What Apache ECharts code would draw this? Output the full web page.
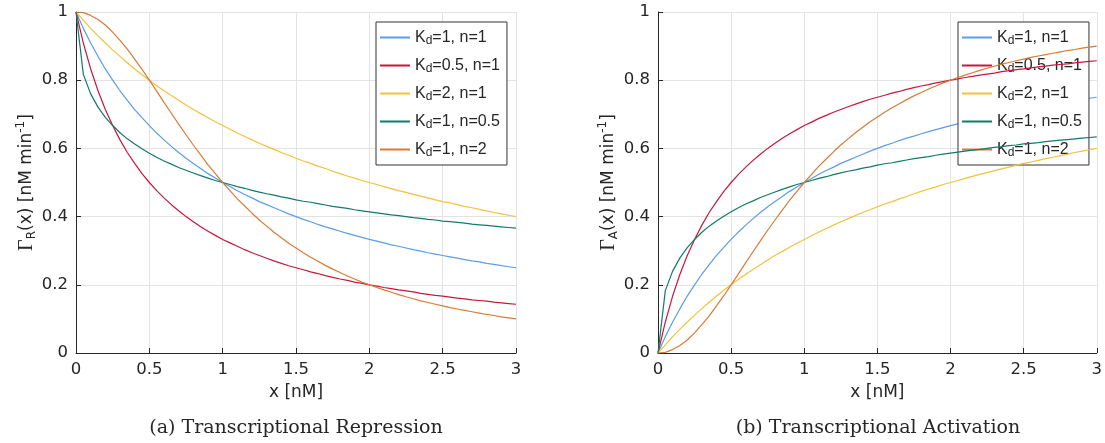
<!DOCTYPE html>
<html>
<head>
<meta charset="utf-8">
<script src="https://cdn.jsdelivr.net/npm/echarts@6/dist/echarts.min.js"></script>
<style>
html,body{margin:0;padding:0;background:#fff;}
#c{width:1105px;height:443px;}
</style>
</head>
<body>
<div id="c"></div>
<script>
// x grid (nM)
const xs = [0,0.05,0.1,0.15,0.2,0.25,0.3,0.35,0.4,0.45,0.5,0.55,0.6,0.65,0.7,0.75,0.8,0.85,0.9,0.95,
1.0,1.05,1.1,1.15,1.2,1.25,1.3,1.35,1.4,1.45,1.5,1.55,1.6,1.65,1.7,1.75,1.8,1.85,1.9,1.95,
2.0,2.05,2.1,2.15,2.2,2.25,2.3,2.35,2.4,2.45,2.5,2.55,2.6,2.65,2.7,2.75,2.8,2.85,2.9,2.95,3.0];

const seriesNames = ['Kd=1, n=1','Kd=0.5, n=1','Kd=2, n=1','Kd=1, n=0.5','Kd=1, n=2'];
const legendLabels = ['K{sub|d}=1, n=1','K{sub|d}=0.5, n=1','K{sub|d}=2, n=1','K{sub|d}=1, n=0.5','K{sub|d}=1, n=2'];

// Repression
const rep_kd1_n1 = [1,.952,.909,.870,.833,.8,.769,.741,.714,.690,.667,.645,.625,.606,.588,.571,.556,.541,.526,.513,
.5,.488,.476,.465,.455,.444,.435,.426,.417,.408,.4,.392,.385,.377,.370,.364,.357,.351,.345,.339,
.333,.328,.323,.317,.313,.308,.303,.299,.294,.290,.286,.282,.278,.274,.270,.267,.263,.260,.256,.253,.25];
const rep_kd05_n1 = [1,.909,.833,.769,.714,.667,.625,.588,.556,.526,.5,.476,.455,.435,.417,.4,.385,.370,.357,.345,
.333,.323,.313,.303,.294,.286,.278,.270,.263,.256,.25,.244,.238,.233,.227,.222,.217,.213,.208,.204,
.2,.196,.192,.189,.185,.182,.179,.175,.172,.169,.167,.164,.161,.159,.156,.154,.152,.149,.147,.145,.143];
const rep_kd2_n1 = [1,.976,.952,.930,.909,.889,.870,.851,.833,.816,.8,.784,.769,.755,.741,.727,.714,.702,.690,.678,
.667,.656,.645,.635,.625,.615,.606,.597,.588,.580,.571,.563,.556,.548,.541,.533,.526,.519,.513,.506,
.5,.494,.488,.482,.476,.471,.465,.460,.455,.449,.444,.440,.435,.430,.426,.421,.417,.412,.408,.404,.4];
const rep_kd1_n05 = [1,.817,.760,.721,.691,.667,.646,.628,.613,.599,.586,.574,.563,.554,.544,.536,.528,.520,.513,.506,
.5,.494,.488,.483,.477,.472,.467,.463,.458,.454,.449,.445,.442,.438,.434,.430,.427,.424,.420,.417,
.414,.411,.408,.405,.403,.4,.397,.395,.392,.390,.387,.385,.383,.381,.378,.376,.374,.372,.370,.368,.366];
const rep_kd1_n2 = [1,.998,.990,.978,.962,.941,.917,.891,.862,.832,.8,.768,.735,.703,.671,.64,.610,.581,.552,.526,
.5,.476,.452,.431,.410,.390,.372,.354,.338,.322,.308,.294,.281,.269,.257,.246,.236,.226,.217,.208,
.2,.192,.185,.178,.171,.165,.159,.153,.148,.143,.138,.133,.129,.125,.121,.117,.113,.110,.106,.103,.1];

// Activation
const act_kd1_n1 = [0,.048,.091,.130,.167,.2,.231,.259,.286,.310,.333,.355,.375,.394,.412,.429,.444,.459,.474,.487,
.5,.512,.524,.535,.545,.556,.565,.574,.583,.592,.6,.608,.615,.623,.630,.636,.643,.649,.655,.661,
.667,.672,.677,.683,.687,.692,.697,.701,.706,.710,.714,.718,.722,.726,.730,.733,.737,.740,.744,.747,.75];
const act_kd05_n1 = [0,.091,.167,.231,.286,.333,.375,.412,.444,.474,.5,.524,.545,.565,.583,.6,.615,.630,.643,.655,
.667,.677,.688,.697,.706,.714,.722,.730,.737,.744,.75,.756,.762,.767,.773,.778,.783,.787,.792,.796,
.8,.804,.808,.811,.815,.818,.821,.825,.828,.831,.833,.836,.839,.841,.844,.846,.848,.851,.853,.855,.857];
const act_kd2_n1 = [0,.024,.048,.070,.091,.111,.130,.149,.167,.184,.2,.216,.231,.245,.259,.273,.286,.298,.310,.322,
.333,.344,.355,.365,.375,.385,.394,.403,.412,.420,.429,.437,.444,.452,.459,.467,.474,.481,.487,.494,
.5,.506,.512,.518,.524,.529,.535,.540,.545,.551,.556,.560,.565,.570,.574,.579,.583,.588,.592,.596,.6];
const act_kd1_n05 = [0,.183,.240,.279,.309,.333,.354,.372,.387,.401,.414,.426,.437,.446,.456,.464,.472,.480,.487,.494,
.5,.506,.512,.517,.523,.528,.533,.537,.542,.546,.551,.555,.558,.562,.566,.570,.573,.576,.580,.583,
.586,.589,.592,.595,.597,.6,.603,.605,.608,.610,.613,.615,.617,.620,.622,.624,.626,.628,.630,.632,.634];
const act_kd1_n2 = [0,.002,.010,.022,.038,.059,.083,.109,.138,.168,.2,.232,.265,.297,.329,.36,.390,.419,.448,.474,
.5,.524,.548,.569,.590,.610,.628,.646,.662,.678,.692,.706,.719,.731,.743,.754,.764,.774,.783,.792,
.8,.808,.815,.822,.829,.835,.841,.847,.852,.857,.862,.867,.871,.875,.879,.883,.887,.890,.894,.897,.9];

const xTicks = [0,0.5,1,1.5,2,2.5,3];
const yTicks = [0,0.2,0.4,0.6,0.8,1];

const colors = ['#5b9de6','#c8173f','#f2c23a','#117a68','#d97b34'];
const repData = [rep_kd1_n1, rep_kd05_n1, rep_kd2_n1, rep_kd1_n05, rep_kd1_n2];
const actData = [act_kd1_n1, act_kd05_n1, act_kd2_n1, act_kd1_n05, act_kd1_n2];

const txt = '#262626';
const axFont = 'DejaVu Sans, Verdana, sans-serif';
const lgFont = 'Liberation Sans, Arial, sans-serif';
const serifFont = 'DejaVu Serif, Liberation Serif, serif';
const gammaFont = 'Liberation Serif, serif';

function pairs(ys){ return xs.map((x,i)=>[x, ys[i]]); }

function xAxis(gi){
  return {
    type:'value', gridIndex:gi, min:0, max:3, interval:0.5,
    name:'x [nM]', nameLocation:'middle', nameGap:31,
    nameTextStyle:{color:txt, fontSize:17, fontFamily:axFont},
    axisLine:{show:true, onZero:false, lineStyle:{color:txt, width:1}},
    axisTick:{show:true, inside:true, length:5, lineStyle:{color:txt}},
    axisLabel:{color:txt, fontSize:16.5, fontFamily:axFont, margin:8,
      formatter: v => String(v)},
    splitLine:{show:true, lineStyle:{color:'#e3e3e3', width:1}}
  };
}
function yAxis(gi, sub){
  return {
    type:'value', gridIndex:gi, min:0, max:1, interval:0.2,
    name:'{g|Γ}{sub|'+sub+'}(x) [nM min{sup|-1}]', nameLocation:'middle', nameGap:38, nameRotate:90,
    nameTextStyle:{color:txt, fontSize:17, fontFamily:axFont,
      rich:{
        g:{fontFamily:gammaFont, fontSize:20, color:txt},
        sub:{fontSize:12, fontFamily:axFont, color:txt, verticalAlign:'bottom', padding:[11,0,0,0]},
        sup:{fontSize:12, fontFamily:axFont, color:txt, verticalAlign:'top', padding:[0,0,9,0]}
      }},
    axisLine:{show:true, onZero:false, lineStyle:{color:txt, width:1}},
    axisTick:{show:true, inside:true, length:5, lineStyle:{color:txt}},
    axisLabel:{color:txt, fontSize:16.5, fontFamily:axFont, margin:8,
      formatter: v => String(Math.round(v*10)/10)},
    splitLine:{show:true, lineStyle:{color:'#e3e3e3', width:1}}
  };
}
function legend(left){
  return {
    left:left, top:22, orient:'vertical',
    data:seriesNames.map(n=>({name:n})),
    backgroundColor:'#fff', borderColor:'#333', borderWidth:1,
    padding:[5,7,6,4], itemGap:8, itemWidth:30, itemHeight:2, icon:'rect',
    formatter: name => legendLabels[seriesNames.indexOf(name)],
    textStyle:{color:txt, fontSize:16, fontFamily:lgFont, lineHeight:19,
      rich:{sub:{fontSize:12, fontFamily:lgFont, color:txt, verticalAlign:'bottom', lineHeight:19, padding:[8,0,0,0]}}},
    selectedMode:false
  };
}

const series = [];
repData.forEach((ys,i)=>series.push({
  name:seriesNames[i], type:'line', xAxisIndex:0, yAxisIndex:0, data:pairs(ys),
  symbol:'none', smooth:false, lineStyle:{color:colors[i], width:1.2}, itemStyle:{color:colors[i]},
  animation:false, z:3+i
}));
actData.forEach((ys,i)=>series.push({
  name:seriesNames[i], type:'line', xAxisIndex:1, yAxisIndex:1, data:pairs(ys),
  symbol:'none', smooth:false, lineStyle:{color:colors[i], width:1.2}, itemStyle:{color:colors[i]},
  animation:false, z:3+i
}));

const chart = echarts.init(document.getElementById('c'), null, {renderer:'canvas'});
chart.setOption({
  backgroundColor:'#fff',
  animation:false,
  grid:[
    {left:76, right:589, top:12, bottom:90, containLabel:false},
    {left:658, right:7, top:12, bottom:90, containLabel:false}
  ],
  xAxis:[xAxis(0), xAxis(1)],
  yAxis:[yAxis(0,'R'), yAxis(1,'A')],
  legend:[legend(376), legend(958)],
  series:series,
  graphic:[
    {type:'text', x:296, y:428, style:{text:'(a) Transcriptional Repression', font:'19px '+serifFont, fill:txt, textAlign:'center', textVerticalAlign:'middle'}},
    {type:'text', x:878, y:428, style:{text:'(b) Transcriptional Activation', font:'19px '+serifFont, fill:txt, textAlign:'center', textVerticalAlign:'middle'}}
  ]
});
</script>
</body>
</html>
